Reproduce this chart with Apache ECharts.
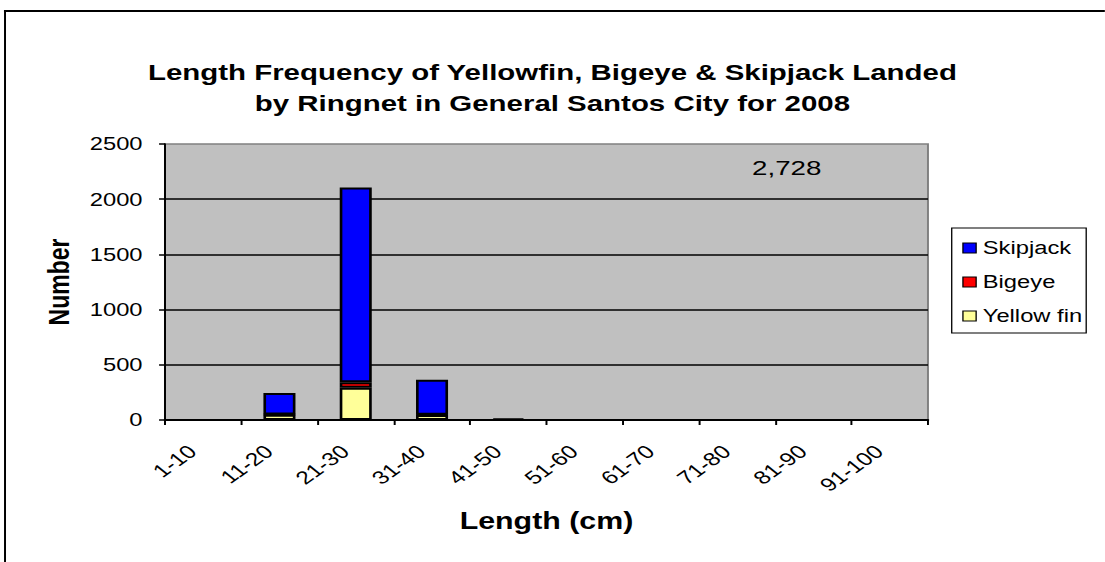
<!DOCTYPE html>
<html>
<head>
<meta charset="utf-8">
<script src="https://cdn.jsdelivr.net/npm/echarts@6/dist/echarts.min.js"></script>
<style>
  html, body { margin: 0; padding: 0; background: #ffffff; overflow: hidden; }
  /* the chart is laid out narrow and widened horizontally as a whole */
  #chart { width: 837px; height: 562px; transform: scaleX(1.32); transform-origin: 0 0; }
</style>
</head>
<body>
<div id="chart"></div>
<script>
// Length classes (cm)
const categories = ['1-10', '11-20', '21-30', '31-40', '41-50', '51-60', '61-70', '71-80', '81-90', '91-100'];

// Number of fish per length class, by species
const yellowfin = [0, 48, 293, 45, 0, 0, 0, 0, 0, 0];
const bigeye    = [0, 2, 50, 2, 0, 0, 0, 0, 0, 0];
const skipjack  = [0, 195, 1763, 318, 12, 0, 0, 0, 0, 0];

// Value axis ticks
const yMin = 0;
const yMax = 2500;
const yStep = 500;

const FONT = '"Liberation Sans", Arial, sans-serif';

const total = [yellowfin, bigeye, skipjack]
  .reduce((s, arr) => s + arr.reduce((a, b) => a + b, 0), 0);

const chart = echarts.init(document.getElementById('chart'), null, { renderer: 'svg' });

const barStyle = (color) => ({ color: color, borderColor: '#000000', borderWidth: 2 });

chart.setOption({
  animation: false,
  backgroundColor: '#ffffff',
  title: {
    text: 'Length Frequency of Yellowfin, Bigeye & Skipjack Landed\nby Ringnet in General Santos City for 2008',
    left: 'center',
    top: 57,
    padding: 0,
    textStyle: { fontFamily: FONT, fontSize: 22.3, fontWeight: 'bold', color: '#000000', lineHeight: 31 }
  },
  legend: {
    orient: 'vertical',
    left: 721,
    top: 228,
    padding: [11, 3, 8, 8],
    itemGap: 16,
    itemWidth: 10,
    itemHeight: 10,
    icon: 'rect',
    borderColor: '#000000',
    borderWidth: 1,
    backgroundColor: '#ffffff',
    data: ['Skipjack', 'Bigeye', 'Yellow fin'],
    textStyle: { fontFamily: FONT, fontSize: 18, color: '#000000' },
    itemStyle: { borderColor: '#000000', borderWidth: 1 }
  },
  grid: {
    left: 125,
    right: 134,
    top: 144,
    bottom: 142,
    show: true,
    backgroundColor: '#C0C0C0',
    borderColor: '#808080',
    borderWidth: 1.5
  },
  xAxis: {
    type: 'category',
    data: categories,
    name: 'Length (cm)',
    nameLocation: 'middle',
    nameGap: 90,
    nameTextStyle: { fontFamily: FONT, fontSize: 23, fontWeight: 'bold', color: '#000000' },
    axisLine: { lineStyle: { color: '#000000', width: 2 } },
    axisTick: { show: true, inside: false, length: 5, alignWithLabel: false, lineStyle: { color: '#000000', width: 1.5 } },
    axisLabel: { rotate: 43, margin: 21, padding: [0, 11, 0, 0], interval: 0, fontFamily: FONT, fontSize: 18.5, color: '#000000' },
    splitLine: { show: false }
  },
  yAxis: {
    type: 'value',
    min: yMin,
    max: yMax,
    interval: yStep,
    name: 'Number',
    nameLocation: 'middle',
    nameGap: 69,
    nameTextStyle: { fontFamily: FONT, fontSize: 23, fontWeight: 'bold', color: '#000000' },
    axisLine: { show: true, lineStyle: { color: '#000000', width: 1.5 } },
    axisTick: { show: true, inside: false, length: 4.5, lineStyle: { color: '#000000', width: 1.5 } },
    axisLabel: { margin: 17, fontFamily: FONT, fontSize: 18, color: '#000000', formatter: (v) => String(v) },
    splitLine: { show: true, showMinLine: false, showMaxLine: false, lineStyle: { color: '#000000', width: 1.5 } }
  },
  series: [
    { name: 'Yellow fin', type: 'bar', stack: 'n', data: yellowfin, barWidth: '42%', itemStyle: barStyle('#FFFF99') },
    { name: 'Bigeye', type: 'bar', stack: 'n', data: bigeye, barWidth: '42%', itemStyle: barStyle('#FF0000') },
    { name: 'Skipjack', type: 'bar', stack: 'n', data: skipjack, barWidth: '42%', itemStyle: barStyle('#0000FF') }
  ],
  graphic: [
    // frame around the whole chart
    { type: 'line', silent: true, shape: { x1: 3, y1: 11, x2: 900, y2: 11 }, style: { stroke: '#000000', lineWidth: 2 } },
    { type: 'line', silent: true, shape: { x1: 3.8, y1: 10, x2: 3.8, y2: 600 }, style: { stroke: '#000000', lineWidth: 1.5 } },
    // grand total of fish measured
    {
      type: 'text', silent: true, x: 596, y: 168, z: 100,
      style: {
        text: total.toLocaleString('en-US'),
        fontFamily: FONT, fontSize: 21, fill: '#000000',
        textAlign: 'center', textVerticalAlign: 'middle'
      }
    }
  ]
});
</script>
</body>
</html>
